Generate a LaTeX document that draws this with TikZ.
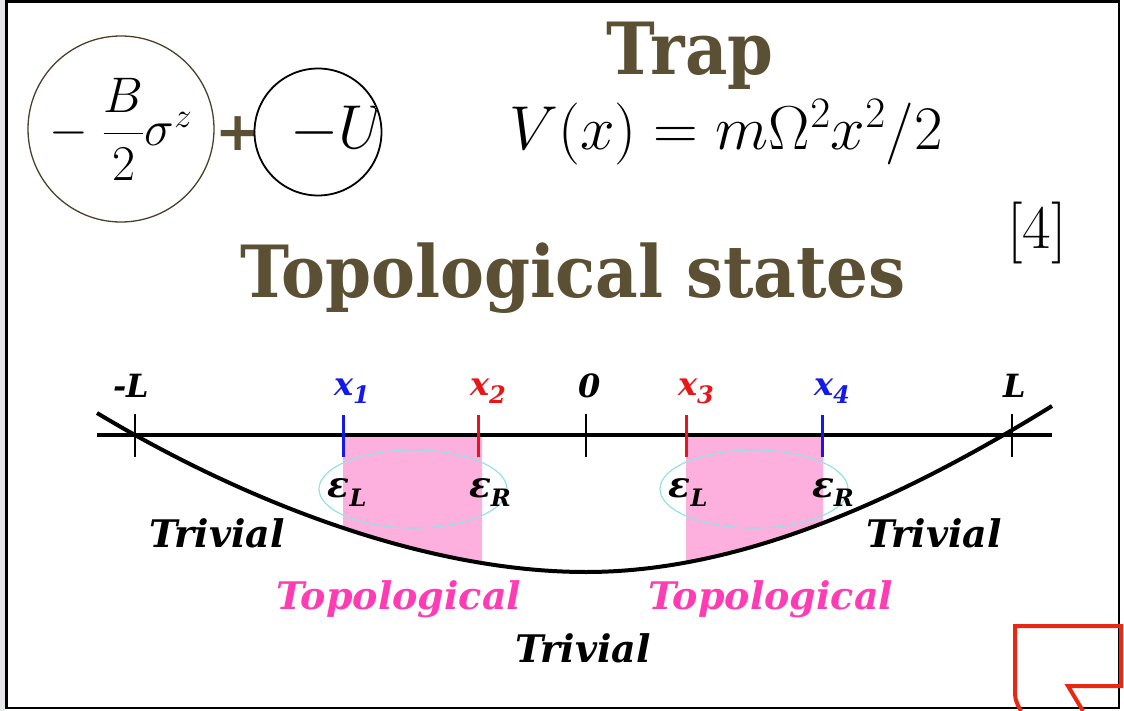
\RequirePackage{fix-cm}
\documentclass[tikz,border=0pt]{standalone}
\usepackage{amsmath}
\usepackage{fontspec}
\usetikzlibrary{positioning}
\newfontfamily\slabfont{DejaVu Serif}
\newfontfamily\plusfont{DejaVu Sans}
\definecolor{titlebrown}{RGB}{91,79,52}
\definecolor{topopink}{RGB}{255,60,180}
\definecolor{zonepink}{RGB}{253,176,222}
\definecolor{ringcyan}{RGB}{150,225,228}
\definecolor{markblue}{RGB}{20,25,235}
\definecolor{markred}{RGB}{235,20,25}
\definecolor{tagred}{RGB}{232,40,18}
\definecolor{edgegray}{RGB}{228,231,234}
\newcommand{\sz}[1]{\fontsize{#1}{#1}\selectfont}
\newcommand{\lowidx}[1]{\raisebox{-0.25em}{\sz{24}#1}}

\begin{document}
\begin{tikzpicture}[x=1pt,y=-1pt]
        \tikzstyle{headline}=[text=titlebrown,font=\slabfont\bfseries\sz{72},inner sep=0pt,anchor=base]
        \tikzstyle{axislabel}=[font=\slabfont\bfseries\itshape\sz{32},inner sep=0pt,anchor=base]
        \tikzstyle{bandlabel}=[font=\slabfont\bfseries\itshape\sz{36},inner sep=0pt,anchor=base]
        \tikzstyle{zonelabel}=[font=\slabfont\bfseries\itshape\sz{38},inner sep=0pt,anchor=base]
        \tikzstyle{tickline}=[line width=2.5pt]
        \tikzstyle{ringline}=[draw=ringcyan,line width=1.2pt]
        \useasboundingbox (0,0) rectangle (1124,711);
        \fill[edgegray] (0,0) rectangle (5,711);
        \draw[line width=2.5pt] (6.5,1.5) rectangle (1119,708);
        % Hamiltonian terms
        \node[draw=titlebrown!80!black,line width=1.3pt,circle,minimum size=186pt,inner sep=0pt] (zeeman) at (121,129) {\sz{50}$-\;\dfrac{B}{2}\sigma^z$};
        \node[text=titlebrown,font=\plusfont\bfseries\sz{54},inner sep=0pt,anchor=base] (plus) at (238,151) {+};
        \node[draw,line width=1.8pt,circle,minimum size=127pt,inner sep=0pt] (chem) at (318,132) {};
        \begin{scope}
          \clip (318,132) circle (62);
          \node[inner sep=0pt] (chemtext) at (338,130) {\sz{62}$-U$};
        \end{scope}
        \node[headline] (trap) at (690,75) {\scalebox{0.91}[1]{Trap}};
        \node[inner sep=0pt,anchor=base] (pot) at (726,150) {\sz{62}$V(x)=m\Omega^2x^2/2$};
        \node[font=\sz{62},inner sep=0pt,anchor=base] (ref) at (1037,249) {[4]};
        \node[headline] (states) at (573,298) {\scalebox{0.915}[1]{Topological states}};
        % shaded bands
        \begin{scope}
          \clip (343,436) rectangle (482,620) (686,436) rectangle (823,620);
          \fill[zonepink] (97,435) -- (97,413) .. controls (250,505) and (430,572) .. (586,572)
            .. controls (740,572) and (900,500) .. (1052,406) -- (1052,435) -- cycle;
        \end{scope}
        \draw[ringline] (413,489) ellipse (94 and 39);
        \draw[ringline] (754,489) ellipse (94 and 39);
        % axis and potential
        \draw[line width=3.5pt] (97,435) -- (1052,435);
        \draw[line width=4pt] (97,413) .. controls (250,505) and (430,572) .. (586,572)
            .. controls (740,572) and (900,500) .. (1052,406);
        \coordinate (mL) at (135,435);
        \coordinate (zero) at (586,435);
        \coordinate (pL) at (1012,435);
        \coordinate (xa) at (343,435);
        \coordinate (xb) at (478,435);
        \coordinate (xc) at (686,435);
        \coordinate (xd) at (822,435);
        \foreach \pt in {mL,zero,pL}
          \draw[tickline] ([yshift=21pt]\pt) -- ([yshift=-22pt]\pt);
        \draw[tickline,markblue,line width=3pt] ([yshift=20pt]xa) -- ([yshift=-22pt]xa);
        \draw[tickline,markred,line width=3pt] ([yshift=20pt]xb) -- ([yshift=-22pt]xb);
        \draw[tickline,markred,line width=3pt] ([yshift=20pt]xc) -- ([yshift=-22pt]xc);
        \draw[tickline,markblue,line width=3pt] ([yshift=20pt]xd) -- ([yshift=-22pt]xd);
        \node[axislabel] (lmL) at (131,397) {-L};
        \node[axislabel,text=markblue] (lxa) at (352,395) {x\lowidx{1}};
        \node[axislabel,text=markred] (lxb) at (488,395) {x\lowidx{2}};
        \node[axislabel] (lzero) at (590,397) {0};
        \node[axislabel,text=markred] (lxc) at (696,395) {x\lowidx{3}};
        \node[axislabel,text=markblue] (lxd) at (832,395) {x\lowidx{4}};
        \node[axislabel] (lpL) at (1015,397) {L};
        \node[bandlabel] (ela) at (347,497) {ε\lowidx{L}};
        \node[bandlabel] (era) at (490,497) {ε\lowidx{R}};
        \node[bandlabel] (elb) at (688,497) {ε\lowidx{L}};
        \node[bandlabel] (erb) at (833,497) {ε\lowidx{R}};
        \node[zonelabel] (trivl) at (217,547) {Trivial};
        \node[zonelabel] (trivr) at (934,547) {Trivial};
        \node[zonelabel] (trivm) at (583,662) {Trivial};
        \node[zonelabel,text=topopink] (topol) at (399,609) {Topological};
        \node[zonelabel,text=topopink] (topor) at (771,609) {Topological};
        % cropped marker in the corner
        \draw[tagred,line width=4pt] (1021,711) .. controls (1015,700) .. (1015,685) -- (1015,626)
          -- (1121,626) -- (1121,686) -- (1068,686) -- (1083,711);
      \end{tikzpicture}
\end{document}
